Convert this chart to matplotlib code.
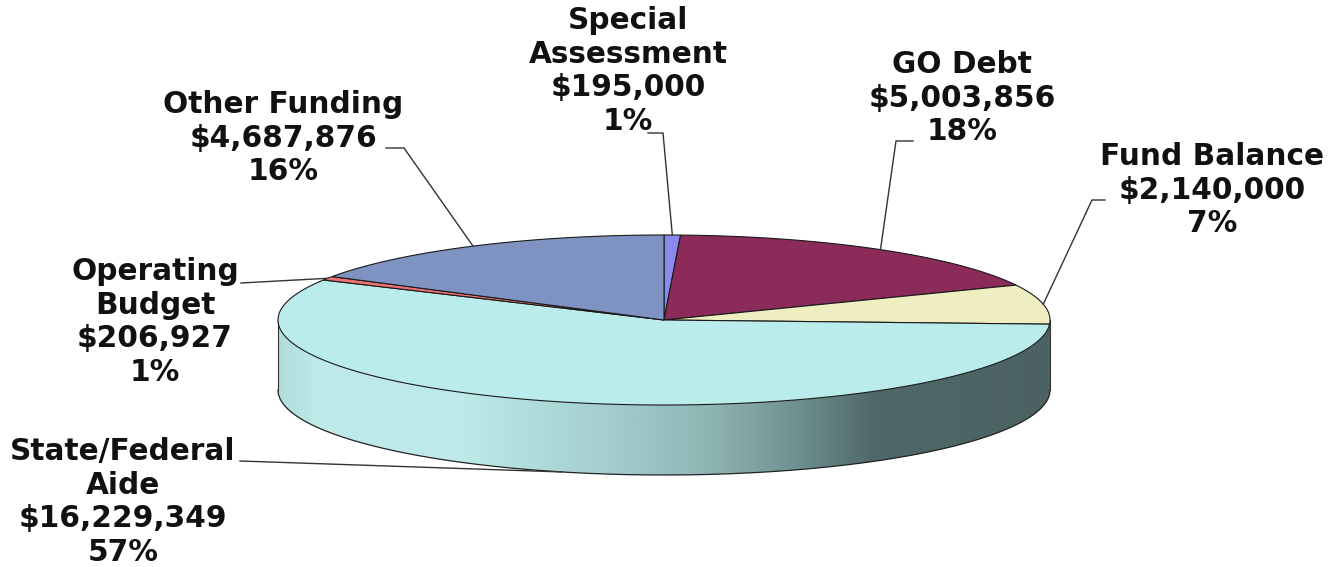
import numpy as np
import matplotlib
matplotlib.use("Agg")
import matplotlib.pyplot as plt
from matplotlib.patches import Polygon
from matplotlib.colors import LinearSegmentedColormap

# ---- data ----
categories = ["Special\nAssessment", "GO Debt", "Fund Balance", "State/Federal\nAide",
              "Operating\nBudget", "Other Funding"]
values = [195000, 5003856, 2140000, 16229349, 206927, 4687876]
percent_labels = ["1%", "18%", "7%", "57%", "1%", "16%"]
colors = ["#8a8aee", "#8b2b5a", "#eeeec0", "#bbecec", "#f07272", "#7f93c3"]

# ---- geometry (pixel space) ----
W, H = 1339, 567
cx, cy, rx, ry, depth = 664, 320, 386, 85, 70

fig = plt.figure(figsize=(W / 100, H / 100), dpi=100)
ax = fig.add_axes([0, 0, 1, 1])
ax.set_xlim(0, W)
ax.set_ylim(H, 0)
ax.axis("off")


def pt(theta_deg, z=0.0):
    t = np.radians(theta_deg)
    return cx + rx * np.cos(t), cy - ry * np.sin(t) + z


total = float(sum(values))
fracs = [v / total for v in values]
bounds = [90.0]
for f in fracs:
    bounds.append(bounds[-1] - f * 360.0)

# ---- side wall with gradient ----
th = np.linspace(180, 360, 300)
top = [pt(t) for t in th]
bot = [pt(t, depth) for t in th[::-1]]
wall_patch = Polygon(top + bot, closed=True, facecolor="none", edgecolor="none")
ax.add_patch(wall_patch)
cmap = LinearSegmentedColormap.from_list(
    "wall",
    [(0.0, "#b0dcdc"), (0.05, "#bfeaea"), (0.24, "#bde9e9"), (0.42, "#a5cfcf"),
     (0.56, "#8fb4b4"), (0.68, "#6d8e8e"), (0.77, "#506868"), (1.0, "#4c6262")])
grad = np.linspace(0, 1, 512)[None, :]
im = ax.imshow(grad, cmap=cmap, aspect="auto",
               extent=[cx - rx, cx + rx, cy + ry + depth + 2, cy - 2], zorder=1)
im.set_clip_path(wall_patch)
bx = [pt(t, depth) for t in th]
ax.plot([p[0] for p in bx], [p[1] for p in bx], color="#222222", lw=0.9, zorder=2)
for t in (180, 360):
    p0, p1 = pt(t), pt(t, depth)
    ax.plot([p0[0], p1[0]], [p0[1], p1[1]], color="#333333", lw=0.8, zorder=2)

# ---- top slices ----
for i in range(len(values)):
    a0, a1 = bounds[i], bounds[i + 1]
    n = max(4, int(abs(a0 - a1) * 2))
    arc = [pt(t) for t in np.linspace(a0, a1, n)]
    ax.add_patch(Polygon([(cx, cy)] + arc, closed=True, facecolor=colors[i],
                         edgecolor="#1a1a1a", lw=0.8, zorder=3))

# ---- labels & leader lines ----
label_pos = [(628, 71), (962, 98), (1212, 190), (123, 502), (155, 322), (283, 138)]
elbows = [[(648, 133), (663, 133)],
          [(913, 141), (896, 141)],
          [(1105, 200), (1092, 200)],
          [(240, 461)],
          [(241, 283)],
          [(386, 148), (404, 148)]]
for i in range(len(values)):
    mid = (bounds[i] + bounds[i + 1]) / 2.0
    anchor = pt(mid, depth) if np.sin(np.radians(mid)) < -0.3 else pt(mid)
    pts = elbows[i] + [anchor]
    ax.plot([p[0] for p in pts], [p[1] for p in pts], color="#333333", lw=1.0, zorder=4)
    txt = f"{categories[i]}\n${values[i]:,}\n{percent_labels[i]}"
    ax.text(label_pos[i][0], label_pos[i][1], txt, ha="center", va="center",
            fontsize=21.3, fontweight="bold", family="DejaVu Sans", color="#111111",
            linespacing=1.19, zorder=5)

fig.savefig("out.png", dpi=100, facecolor="white")
